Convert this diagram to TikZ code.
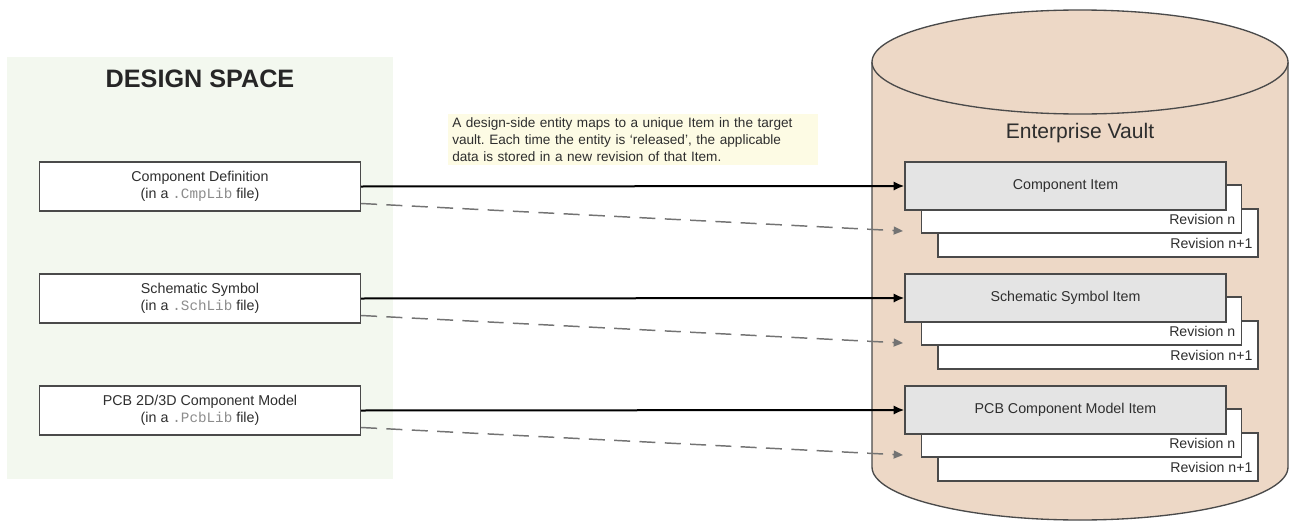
\documentclass[tikz,border=0pt]{standalone}
\usepackage{fontspec}
\setmainfont{Liberation Sans}
\setmonofont{Liberation Mono}
\usetikzlibrary{positioning,arrows.meta}
\frenchspacing

\definecolor{designbg}{HTML}{F3F8EF}
\definecolor{vaultfill}{HTML}{EDD8C6}
\definecolor{notefill}{HTML}{FDFBE4}
\definecolor{itemfill}{HTML}{E4E4E4}
\definecolor{boxline}{HTML}{4A4A4A}
\definecolor{boxtext}{HTML}{2E2E2E}
\definecolor{libtext}{HTML}{8C8C8C}

% library file name in a box label
\newcommand{\libfile}[1]{{\ttfamily\color{libtext}.#1}}

\tikzset{
	defbox/.style={draw=boxline, line width=1pt, fill=white, minimum width=240.75pt, minimum height=36.75pt,
		align=center, text=boxtext, font=\fontsize{10.7}{12.75}\selectfont},
	itembox/.style={draw=boxline, line width=1pt, fill=itemfill, minimum width=240.75pt, minimum height=36pt,
		text=boxtext, font=\fontsize{10.7}{12.75}\selectfont},
	revbox/.style={draw=boxline, line width=1pt, fill=white, minimum width=240pt, minimum height=36pt},
	revlabel/.style={anchor=east, inner sep=0pt, text=boxtext, font=\fontsize{10.6}{12}\selectfont},
	maparrow/.style={line width=1.5pt, -{Latex[length=8pt,width=7pt]}},
	revarrow/.style={line width=1.1pt, black!55, dash pattern=on 12pt off 7pt, -{Triangle[length=7pt,width=6pt]}}
}

\begin{document}
\begin{tikzpicture}[x=0.75pt, y=-0.75pt]
	\useasboundingbox (0,0) rectangle (1293,521);
	
	% ---------------------- vault cylinder ----------------------
	\fill[vaultfill] (872,62) -- (872,467) arc[start angle=180, end angle=360, x radius=156pt, y radius=39.75pt] -- (1288,62) -- cycle;
	\draw[boxline, line width=1pt] (872,62) -- (872,467) arc[start angle=180, end angle=360, x radius=156pt, y radius=39.75pt] -- (1288,62);
	\filldraw[fill=vaultfill, draw=boxline, line width=1pt] (1080,62) ellipse[x radius=156pt, y radius=39pt];
	\node (vaultlbl) [font=\fontsize{15.8}{18}\selectfont, text=boxtext] at (1080,133) {Enterprise Vault};
	
	% ---------------------- design space ----------------------
	\fill[designbg] (7,57) rectangle (393,479);
	\node (dstitle) [font=\bfseries\fontsize{18.9}{22}\selectfont, text=black!85] at (200,79) {DESIGN SPACE};
	
	% note above the first mapping
	\node (note) [anchor=north west, fill=notefill, text width=271pt, inner xsep=3pt, inner ysep=2.5pt, align=left,
		text=boxtext, font=\fontsize{10.2}{12.75}\selectfont] at (448,114)
		{A design-side entity maps to a unique Item in the target\\
		 vault. Each time the entity is `released', the applicable\\
		 data is stored in a new revision of that Item.};
	
	% one row per design entity, 112 units apart
	\foreach \dname/\lib/\iname [count=\i from 0] in {
		{Component Definition}/CmpLib/{Component Item},
		{Schematic Symbol}/SchLib/{Schematic Symbol Item},
		{PCB 2D/3D Component Model}/PcbLib/{PCB Component Model Item}} {
		\pgfmathsetmacro{\yy}{112*\i}
		\node (def\i) [defbox] at (200,{186.5+\yy}) {\dname\\(in a \libfile{\lib} file)};
		\node (revm\i) [revbox] at (1098,{233+\yy}) {};
		\node (revn\i) [revbox] at (1081.5,{209+\yy}) {};
		\node (item\i) [itembox] at (1065.5,{186+\yy}) {\iname};
		\node (revnlbl\i) [revlabel] at ([xshift=-5pt,yshift=11pt]revn\i.south east) {Revision n};
		\node (revmlbl\i) [revlabel] at ([xshift=-4.5pt,yshift=11pt]revm\i.south east) {Revision n+1};
		\coordinate (tip\i) at (903,{231+\yy});
		\draw[maparrow] (def\i.east) -- (item\i.west); % entity -> item
		\draw[revarrow] ([yshift=-12.75pt]def\i.east) -- (tip\i); % entity -> new revision
	}
\end{tikzpicture}
\end{document}
